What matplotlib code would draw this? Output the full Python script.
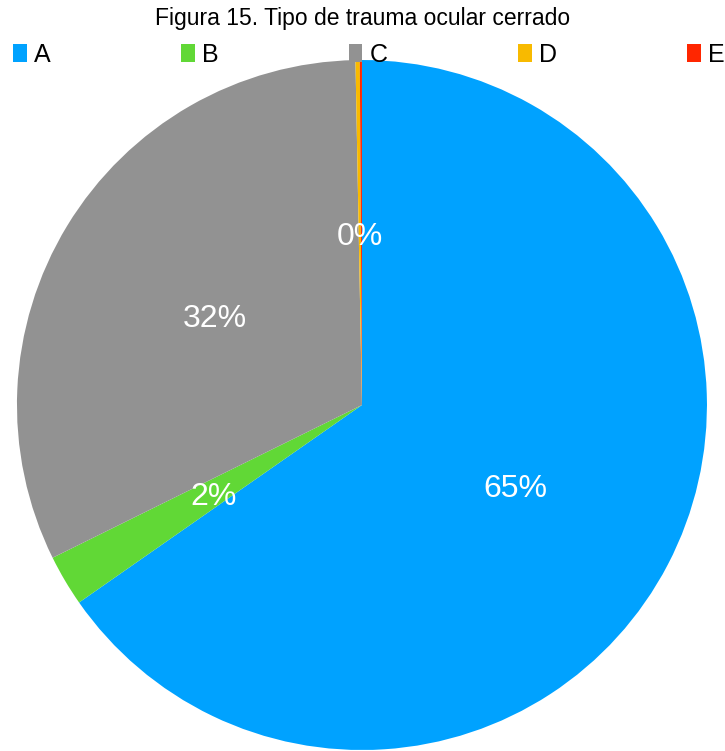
import matplotlib.pyplot as plt

plt.rcParams["font.family"] = ["Liberation Sans", "DejaVu Sans"]

labels = ["A", "B", "C", "D", "E"]
shares = [65.3, 2.4, 32.0, 0.2, 0.1]
colors = ["#00A2FF", "#61D836", "#929292", "#F8BA00", "#FF2600"]

fig = plt.figure(figsize=(7.25, 7.51), dpi=100)
ax = fig.add_axes([0.0234, 0.0013, 0.9517, 0.9188])

wedges, _, pcts = ax.pie(
    shares,
    colors=colors,
    startangle=90,
    counterclock=False,
    autopct="%1.0f%%",
    pctdistance=0.5,
    textprops={"color": "white", "fontsize": 23},
)
# D and E both round to 0% at the same spot; keep a single label
pcts[4].set_visible(False)
for t in pcts:
    x, y = t.get_position()
    t.set_position((x, y - 0.012))

ax.set_xlim(-1, 1)
ax.set_ylim(-1, 1)
ax.set_aspect("equal")

fig.text(0.5, 0.976, "Figura 15. Tipo de trauma ocular cerrado",
         ha="center", va="center", fontsize=16.5)

fig.legend(
    wedges, labels,
    loc="lower left",
    bbox_to_anchor=(0.018, 0.911, 0.982, 0.05),
    mode="expand",
    ncol=5,
    frameon=False,
    fontsize=18,
    handlelength=0.55,
    handleheight=0.75,
    handletextpad=0.3,
    borderaxespad=0,
    borderpad=0,
)

fig.savefig("out.png", dpi=100)
